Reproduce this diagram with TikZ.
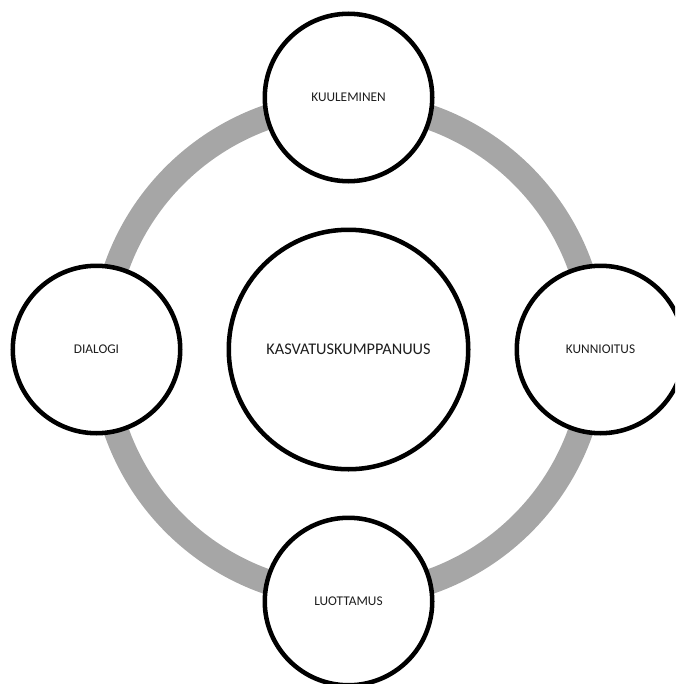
\documentclass[tikz,border=0pt]{standalone}
\usepackage{fontspec}
\setmainfont{Carlito}
\definecolor{ringgray}{RGB}{166,166,166}
\definecolor{txt}{RGB}{30,30,30}
\begin{document}
\begin{tikzpicture}[x=0.75pt,y=-0.75pt,
  sat/.style={circle,draw=black,line width=3.4pt,fill=white,minimum size=125.6pt,inner sep=0pt,
    font=\fontsize{10}{12}\selectfont,text=txt},
  hub/.style={circle,draw=black,line width=3.4pt,fill=white,minimum size=179.6pt,inner sep=0pt,
    font=\fontsize{12.2}{14}\selectfont,text=txt},
  ring/.style={draw=ringgray,line width=18.75pt}]
\useasboundingbox (0,0) rectangle (675,684);
\clip (0,0) rectangle (675,684);
\coordinate (c) at (348.5,349.5);
\draw[ring] (c) circle (184.5pt);
\node[hub] (main) at (c) {KASVATUSKUMPPANUUS};
\node[sat] (top) at (348.5,97.5) {KUULEMINEN};
\node[sat] (left) at (96.5,349.5) {DIALOGI};
\node[sat] (right) at (600.5,349.5) {KUNNIOITUS};
\node[sat] (bottom) at (348.5,601.5) {LUOTTAMUS};
\end{tikzpicture}
\end{document}
